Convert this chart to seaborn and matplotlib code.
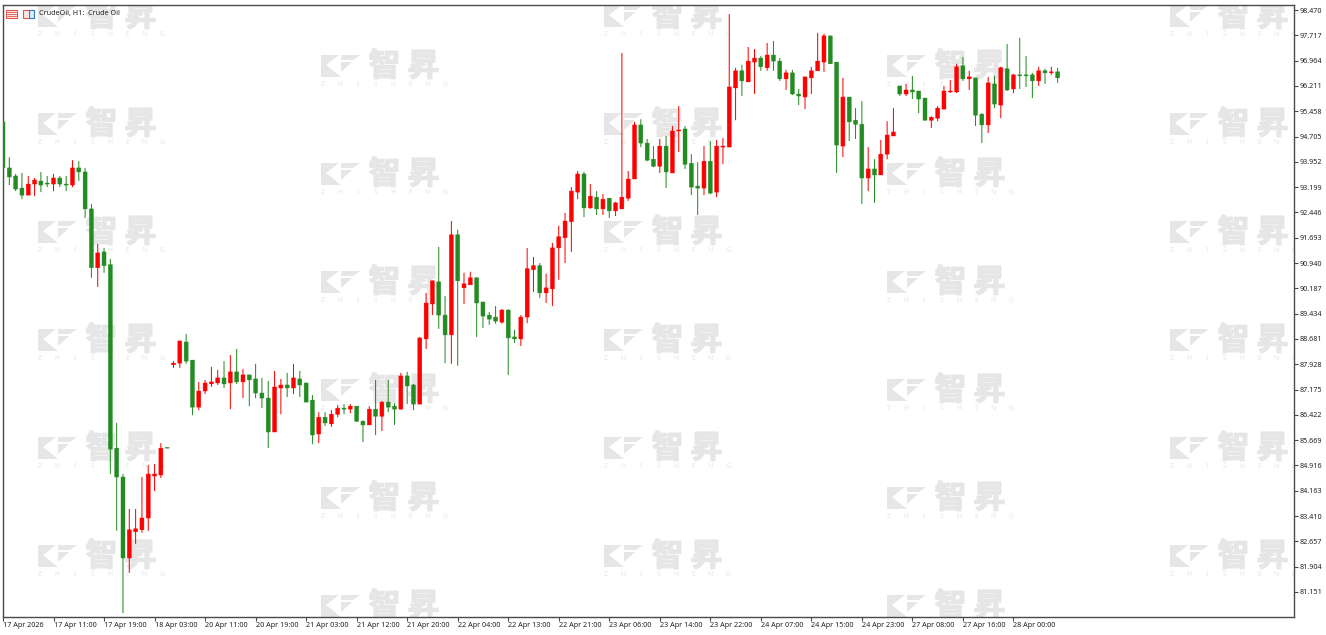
import numpy as np
import pandas as pd
import seaborn as sns
import matplotlib.pyplot as plt
import matplotlib.patheffects as pe
from matplotlib.patches import Polygon, Rectangle
from matplotlib.transforms import Affine2D

# hourly bars
opens = [95.14, 93.77, 93.53, 93.17, 92.96, 93.29, 93.38, 93.32, 93.29, 93.47, 93.29, 93.26,
         93.77, 93.65, 92.55, 90.80, 91.27, 90.89, 85.43, 84.57, 82.16, 82.94, 83.00, 83.35,
         84.60, 84.63, 85.45, 87.91, 87.96, 88.59, 88.05, 86.65, 87.13, 87.34, 87.37, 87.52,
         87.37, 87.70, 87.40, 87.61, 87.49, 87.07, 86.92, 85.91, 87.22, 87.31, 87.22, 87.49,
         87.37, 86.86, 85.85, 86.35, 86.15, 86.44, 86.62, 86.59, 86.68, 86.23, 86.12, 86.59,
         86.38, 86.80, 86.68, 86.59, 87.58, 87.31, 86.74, 88.68, 89.72, 90.38, 89.39, 88.80,
         91.78, 90.20, 90.29, 90.50, 89.78, 89.39, 89.33, 89.18, 89.54, 88.74, 88.68, 89.33,
         90.74, 90.86, 90.05, 90.17, 91.39, 91.69, 92.17, 93.05, 93.59, 92.58, 92.90, 92.55,
         92.87, 92.49, 92.55, 92.87, 93.44, 95.05, 94.51, 94.03, 93.82, 94.42, 93.62, 94.87,
         94.93, 93.91, 93.23, 93.17, 93.97, 93.05, 94.39, 94.39, 96.15, 96.66, 96.33, 96.92,
         97.04, 96.75, 97.13, 96.95, 96.42, 96.60, 95.97, 95.88, 96.45, 96.66, 96.92, 97.70,
         96.92, 94.42, 95.88, 95.19, 95.07, 93.47, 93.74, 93.56, 94.18, 94.72, 96.21, 95.97,
         96.09, 96.06, 95.85, 95.19, 95.25, 95.52, 96.03, 96.03, 96.81, 96.42, 96.45, 95.37,
         95.05, 96.27, 95.64, 96.72, 96.12, 96.54, 96.54, 96.54, 96.36, 96.66, 96.60, 96.63]
closes = [93.77, 93.50, 93.14, 92.96, 93.29, 93.41, 93.26, 93.29, 93.47, 93.29, 93.26, 93.77,
          93.65, 92.55, 90.80, 91.24, 90.86, 85.40, 84.57, 82.16, 83.00, 83.03, 83.35, 84.66,
          84.66, 85.43, 85.43, 87.96, 88.62, 88.02, 86.65, 87.13, 87.37, 87.40, 87.52, 87.34,
          87.70, 87.40, 87.61, 87.46, 87.07, 86.92, 85.91, 87.25, 87.31, 87.22, 87.52, 87.31,
          86.80, 85.82, 86.35, 86.18, 86.44, 86.62, 86.59, 86.68, 86.23, 86.12, 86.59, 86.38,
          86.80, 86.65, 86.59, 87.58, 87.28, 86.74, 88.71, 89.75, 90.41, 89.39, 88.80, 91.78,
          90.41, 90.32, 90.50, 89.75, 89.36, 89.27, 89.21, 89.54, 88.71, 88.68, 89.33, 90.77,
          90.86, 90.05, 90.20, 91.39, 91.72, 92.19, 93.08, 93.59, 92.58, 92.93, 92.55, 92.84,
          92.49, 92.73, 92.90, 93.44, 95.05, 94.51, 94.00, 93.82, 94.42, 93.65, 94.87, 94.90,
          93.88, 93.20, 93.17, 93.97, 93.02, 94.42, 94.42, 96.18, 96.66, 96.36, 96.95, 97.04,
          96.78, 97.13, 96.95, 96.42, 96.60, 95.97, 95.91, 96.48, 96.66, 96.95, 97.70, 96.87,
          94.45, 95.88, 95.14, 95.07, 93.47, 93.74, 93.56, 94.18, 94.75, 94.84, 95.97, 96.09,
          96.03, 95.82, 95.19, 95.28, 95.55, 96.06, 96.06, 96.78, 96.42, 96.48, 95.34, 95.05,
          96.30, 95.67, 96.75, 96.09, 96.54, 96.51, 96.51, 96.36, 96.66, 96.60, 96.63, 96.45]
highs = [95.14, 94.09, 93.59, 93.62, 93.53, 93.47, 93.65, 93.53, 93.59, 93.53, 93.53, 94.00,
         93.97, 93.77, 92.70, 91.51, 91.39, 91.06, 86.18, 84.66, 83.62, 83.62, 84.57, 84.93,
         84.96, 85.58, 85.45, 88.02, 88.62, 88.83, 88.05, 87.40, 87.46, 87.85, 87.76, 88.02,
         88.20, 88.38, 87.79, 87.61, 87.94, 87.52, 87.43, 87.73, 87.49, 87.67, 87.94, 87.73,
         87.37, 87.01, 86.50, 86.50, 86.56, 86.71, 86.74, 86.74, 86.68, 86.26, 86.68, 87.46,
         86.83, 87.46, 86.77, 87.67, 87.70, 87.34, 88.74, 90.05, 90.41, 91.42, 89.96, 92.19,
         91.93, 90.65, 90.68, 90.50, 89.78, 89.48, 89.66, 89.57, 89.57, 88.95, 89.39, 91.39,
         91.12, 90.94, 90.62, 91.54, 92.05, 92.43, 93.20, 93.68, 93.65, 93.29, 93.08, 92.99,
         92.87, 92.76, 97.19, 93.68, 95.14, 95.22, 94.63, 94.42, 94.63, 94.72, 95.02, 95.61,
         95.02, 94.18, 93.94, 94.42, 94.57, 94.60, 94.66, 98.35, 96.75, 96.84, 97.37, 97.31,
         97.10, 97.49, 97.55, 97.04, 96.69, 96.69, 96.12, 96.48, 96.78, 97.79, 97.76, 97.70,
         96.92, 96.45, 95.88, 95.55, 95.76, 94.39, 94.03, 94.60, 95.16, 95.55, 96.21, 96.27,
         96.51, 96.06, 95.85, 95.31, 95.61, 96.21, 96.39, 96.87, 97.07, 96.66, 96.45, 95.40,
         96.48, 96.51, 96.78, 97.46, 96.57, 97.64, 97.10, 96.60, 96.78, 96.72, 96.78, 96.75]
lows = [93.77, 93.26, 93.08, 92.84, 92.96, 92.93, 93.05, 93.20, 93.08, 93.20, 93.08, 93.20,
        93.38, 92.28, 90.50, 90.23, 90.65, 84.66, 82.97, 80.52, 81.72, 82.58, 82.91, 82.97,
        84.15, 84.54, 85.43, 87.82, 87.82, 87.94, 86.41, 86.56, 87.04, 87.25, 87.31, 87.22,
        86.59, 87.34, 86.92, 86.68, 86.92, 86.62, 85.43, 85.91, 86.44, 86.95, 87.04, 86.95,
        86.80, 85.55, 85.58, 86.09, 86.06, 86.35, 86.44, 86.47, 86.21, 85.61, 86.12, 85.82,
        85.94, 86.50, 86.12, 86.59, 86.74, 86.56, 86.74, 88.38, 89.39, 88.98, 87.96, 87.94,
        87.88, 89.72, 90.29, 88.74, 89.01, 89.10, 89.13, 89.13, 87.61, 88.56, 88.47, 89.15,
        90.08, 89.90, 89.75, 89.66, 90.44, 90.94, 91.27, 92.84, 92.31, 92.55, 92.37, 92.37,
        92.28, 92.34, 92.55, 92.79, 93.44, 94.39, 93.97, 93.79, 93.62, 93.17, 93.62, 94.24,
        93.74, 92.96, 92.37, 92.96, 92.99, 92.90, 93.88, 94.39, 95.19, 95.91, 96.33, 95.97,
        96.66, 96.66, 96.66, 96.36, 96.09, 95.94, 95.64, 95.52, 95.97, 96.66, 96.63, 96.87,
        93.62, 94.09, 94.57, 94.63, 92.70, 93.08, 92.73, 93.56, 94.03, 94.72, 95.91, 95.91,
        95.82, 95.40, 95.19, 94.96, 95.16, 95.52, 96.00, 96.00, 96.36, 96.09, 95.02, 94.51,
        94.81, 95.55, 95.25, 96.06, 96.00, 96.12, 96.18, 95.85, 96.21, 96.27, 96.54, 96.30]

price_labels = ["98.470", "97.717", "96.964", "96.211", "95.458", "94.705", "93.952", "93.199",
                "92.446", "91.693", "90.940", "90.187", "89.434", "88.681", "87.928", "87.175",
                "86.422", "85.669", "84.916", "84.163", "83.410", "82.657", "81.904", "81.151"]
time_labels = ["17 Apr 2026", "17 Apr 11:00", "17 Apr 19:00", "18 Apr 03:00", "20 Apr 11:00",
               "20 Apr 19:00", "21 Apr 03:00", "21 Apr 12:00", "21 Apr 20:00", "22 Apr 04:00",
               "22 Apr 13:00", "22 Apr 21:00", "23 Apr 06:00", "23 Apr 14:00", "23 Apr 22:00",
               "24 Apr 07:00", "24 Apr 15:00", "24 Apr 23:00", "27 Apr 08:00", "27 Apr 16:00",
               "28 Apr 00:00"]

W, H = 1326, 635
UP = "#ff0000"
DOWN = "#228b22"
MARK = "#e6e6e6"
AXIS = "#4a4a4a"
FONT = ["Noto Sans", "DejaVu Sans"]

sns.set_theme(style="white")
plt.rcParams["font.family"] = FONT

df = pd.DataFrame({"open": opens, "close": closes, "high": highs, "low": lows})
df["bar"] = np.arange(len(df))
df["up"] = df["close"] >= df["open"]
df["top"] = df[["open", "close"]].max(axis=1)
df["bot"] = df[["open", "close"]].min(axis=1)

fig = plt.figure(figsize=(W / 100, H / 100), dpi=100)
# axes box in picture pixels: x 2.5-1293.5, y 4.5-617
ax = fig.add_axes([2.5 / W, 1 - 617 / H, 1291 / W, 612.5 / H])
ax.set_facecolor("white")

for is_up, color in [(True, UP), (False, DOWN)]:
    part = df[df["up"] == is_up]
    sns.barplot(x=part["bar"], y=part["high"] - part["low"], bottom=part["low"].values, ax=ax,
                native_scale=True, width=0.16, color=color, saturation=1, errorbar=None,
                linewidth=0, snap=False, zorder=3)
    sns.barplot(x=part["bar"], y=part["top"] - part["bot"], bottom=part["bot"].values, ax=ax,
                native_scale=True, width=0.63, color=color, saturation=1, errorbar=None,
                edgecolor=color, linewidth=0.3, snap=False, zorder=4)

ax.set_xlim(-0.079, 204.35)
ax.set_ylim(80.404, 98.634)
ax.set_xlabel("")
ax.set_ylabel("")

ax.yaxis.tick_right()
ax.set_yticks([float(v) for v in price_labels])
ax.set_yticklabels(price_labels)
ax.set_xticks(np.arange(len(time_labels)) * 8)
ax.set_xticklabels(time_labels, ha="left")
ax.tick_params(axis="both", length=3, width=0.8, color=AXIS, labelcolor="#222222",
               labelsize=5.2, bottom=True, right=True)
ax.tick_params(axis="x", pad=0.6)
ax.tick_params(axis="y", pad=1.2)
for side in ax.spines:
    ax.spines[side].set_visible(True)
    ax.spines[side].set_color(AXIS)
    ax.spines[side].set_linewidth(1.0)

# everything below is placed in picture pixels, y going down
px = Affine2D().scale(1, -1).translate(0, H)
thick = [pe.withStroke(linewidth=0.9, foreground=MARK)]


def logo(x0, y0):
    polys = [[(0, 0), (18, 0), (5, 10), (20, 22), (0, 22)],
             [(20, 0), (39, 0), (32, 5), (20, 5)],
             [(20, 7), (31, 7), (20, 17)]]
    for pts in polys:
        ax.add_patch(Polygon([(x0 + a, y0 + b) for a, b in pts], closed=True, facecolor=MARK,
                             edgecolor="none", transform=px, zorder=1, clip_on=True))
    for dx, ch in [(63.5, "智"), (102.5, "昇")]:
        ax.text(x0 + dx, y0 + 12, ch, transform=px, color=MARK, fontsize=23, fontweight="bold",
                family=["Noto Sans CJK SC", "DejaVu Sans"], ha="center", va="center", zorder=1,
                clip_on=True, path_effects=thick)
    if y0 + 30 < 612:
        for k, ch in enumerate("ZHISHENG"):
            ax.text(x0 + 2 + k * 17.4, y0 + 30, ch, transform=px, color=MARK, fontsize=5,
                    ha="center", va="center", zorder=1, clip_on=True)


for col, x0 in enumerate([38, 321, 604, 887, 1170]):
    y_start = 5 if col % 2 == 0 else 55
    for row in range(6):
        logo(x0, y_start + row * 108)

# header: two toolbar icons and the symbol name
for x0, c in [(6, "#e2574c"), (23, "#e2574c")]:
    ax.add_patch(Rectangle((x0, 9.5), 11, 8, facecolor="#fbe9e7", edgecolor=c, linewidth=0.8,
                           transform=px, zorder=6))
for y0 in [12, 14, 16]:
    ax.plot([7, 16], [y0, y0], color="#e2574c", lw=0.6, transform=px, zorder=7)
ax.add_patch(Rectangle((29, 9.5), 5, 8, facecolor="#d9ecfb", edgecolor="#2f7fc1", linewidth=0.8,
                       transform=px, zorder=7))
ax.text(39, 13.5, "CrudeOil, H1:  Crude Oil", transform=px, fontsize=5.2, color="#222222",
        ha="left", va="center", zorder=8)

fig.savefig("out.png", dpi=100, facecolor="white")
plt.close()
